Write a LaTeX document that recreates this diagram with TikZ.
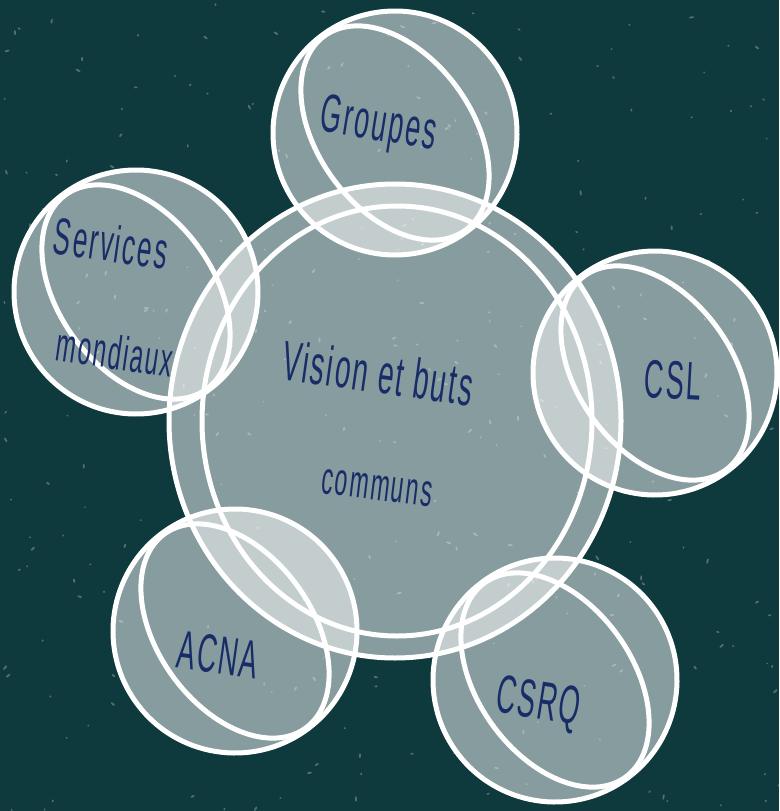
\documentclass[tikz,border=0pt]{standalone}
\usepackage{graphicx}
\usepackage{fontspec}
\newfontfamily\hand{Liberation Sans}[LetterSpace=8]
\definecolor{bgteal}{RGB}{15,58,61}
\definecolor{inkblue}{RGB}{24,44,104}
\newcommand\nar[1]{\scalebox{0.5}[1]{#1}}
\begin{document}
\begin{tikzpicture}[x=1pt,y=-1pt,
  ring/.style={draw=white,line width=5pt},
  disc/.style={fill=white,fill opacity=0.5},
  speck/.style={fill=white,fill opacity=0.28},
  txt/.style={text=inkblue,inner sep=0pt}]
\useasboundingbox (0,0) rectangle (779,811);
\fill[bgteal] (0,0) rectangle (779,811);
% speckles
\pgfmathsetseed{42}
\foreach \i in {1,...,300}{
  \pgfmathsetmacro\sx{rnd*779}
  \pgfmathsetmacro\sy{rnd*811}
  \pgfmathsetmacro\sr{0.8+rnd*2.0}
  \pgfmathsetmacro\sa{rnd*180}
  \fill[speck,shift={(\sx,\sy)},rotate=\sa] (0,0) ellipse[x radius=\sr pt,y radius=1pt];
}
% centres
\coordinate (cG) at (395,133);
\coordinate (cS) at (136,292);
\coordinate (cL) at (655,373);
\coordinate (cA) at (235,631);
\coordinate (cQ) at (555,680);
% fills
\fill[disc] (395,421) ellipse[x radius=226pt,y radius=237pt]
            (397,421) ellipse[x radius=195pt,y radius=215pt];
\foreach \p in {cG,cS,cL,cA,cQ}{
  \fill[disc,shift={(\p)},rotate=-54] (0,0) circle[radius=122pt]
        (0,0) ellipse[x radius=120pt,y radius=77pt];
}
% outlines
\draw[ring] (395,421) ellipse[x radius=226pt,y radius=237pt];
\draw[ring] (397,421) ellipse[x radius=195pt,y radius=215pt];
\foreach \p in {cG,cS,cL,cA,cQ}{
  \draw[ring,shift={(\p)},rotate=-54] (0,0) circle[radius=122pt];
  \draw[ring,shift={(\p)},rotate=-54] (0,0) ellipse[x radius=120pt,y radius=77pt];
}
% texts
\node[txt,rotate=-8,font={\hand\fontsize{56pt}{56pt}\selectfont}] (vision) at (378,373) {\nar{Vision et buts}};
\node[txt,rotate=-7,font={\hand\fontsize{46pt}{46pt}\selectfont}] (communs) at (377,488) {\nar{communs}};
\node[txt,rotate=-9,font={\hand\fontsize{54pt}{54pt}\selectfont}] (groupes) at (378,127) {\nar{Groupes}};
\node[txt,rotate=-8,font={\hand\fontsize{52pt}{52pt}\selectfont}] (services) at (111,243) {\nar{Services}};
\node[txt,rotate=-8,font={\hand\fontsize{48pt}{48pt}\selectfont}] (mondiaux) at (115,352) {\nar{mondiaux}};
\node[txt,rotate=-3,font={\hand\fontsize{54pt}{54pt}\selectfont}] (csl) at (673,380) {\nar{CSL}};
\node[txt,rotate=-8,font={\hand\fontsize{54pt}{54pt}\selectfont}] (acna) at (218,655) {\nar{ACNA}};
\node[txt,rotate=-9,font={\hand\fontsize{54pt}{54pt}\selectfont}] (csrq) at (538,705) {\nar{CSRQ}};
\end{tikzpicture}
\end{document}
